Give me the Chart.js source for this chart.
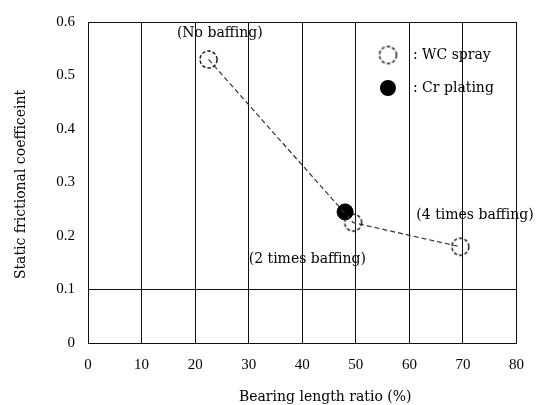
<!DOCTYPE html>
<html>
<head>
<meta charset="utf-8">
<script src="https://cdn.jsdelivr.net/npm/chart.js@4/dist/chart.umd.min.js"></script>
<style>
html,body{margin:0;padding:0;background:#fff;}
#wrap{width:537px;height:405px;position:relative;}
</style>
</head>
<body>
<div id="wrap"><canvas id="c" width="537" height="405"></canvas></div>
<script>
// Data
const wcX = [22.5, 49.5, 69.5];
const wcY = [0.53, 0.225, 0.18];
const crX = [48];
const crY = [0.245];
const xTicks = [0, 10, 20, 30, 40, 50, 60, 70, 80];
const yTicks = [0, 0.1, 0.2, 0.3, 0.4, 0.5, 0.6];
const seriesNames = [': WC spray', ': Cr plating'];
const annotations = [
  {text: '(No baffing)', x: 24.6, y: 0.579, align: 'center'},
  {text: '(2 times baffing)', x: 30.0, y: 0.157, align: 'left'},
  {text: '(4 times baffing)', x: 61.3, y: 0.239, align: 'left'}
];
const xTitle = 'Bearing length ratio (%)';
const yTitle = 'Static frictional coefficeint';

const TICKFONT = '"Liberation Serif", "Times New Roman", serif';
const TEXTFONT = '"DejaVu Serif", "Liberation Serif", serif';

function dashedCircle(r) {
  const s = Math.ceil(r * 2 + 4);
  const cv = document.createElement('canvas');
  cv.width = s; cv.height = s;
  const g = cv.getContext('2d');
  g.strokeStyle = '#111';
  g.lineWidth = 1.4;
  g.setLineDash([3.5, 2]);
  g.beginPath(); g.arc(s / 2, s / 2, r, 0, Math.PI * 2); g.stroke();
  return cv;
}
const openMarker = dashedCircle(8.5);

const textPlugin = {
  id: 'textPlugin',
  afterDatasetsDraw(chart) {
    const ctx = chart.ctx;
    const xs = chart.scales.x, ys = chart.scales.y;
    const ca = chart.chartArea;
    ctx.save();
    ctx.fillStyle = '#000';
    ctx.font = '14px ' + TEXTFONT;
    ctx.textBaseline = 'middle';
    annotations.forEach(a => {
      ctx.textAlign = a.align;
      ctx.fillText(a.text, xs.getPixelForValue(a.x), ys.getPixelForValue(a.y));
    });
    // legend
    const lx = ca.left + (ca.right - ca.left) * 0.70;
    const ly1 = ca.top + 33, ly2 = ca.top + 66;
    ctx.drawImage(openMarker, lx - openMarker.width / 2, ly1 - openMarker.height / 2);
    ctx.fillStyle = '#000';
    ctx.beginPath(); ctx.arc(lx, ly2, 8, 0, Math.PI * 2); ctx.fill();
    ctx.textAlign = 'left';
    ctx.fillText(seriesNames[0], lx + 25, ly1);
    ctx.fillText(seriesNames[1], lx + 25, ly2);
    // axis titles
    ctx.font = '14px ' + TEXTFONT;
    ctx.textAlign = 'center';
    ctx.fillText(xTitle, (ca.left + ca.right) / 2 + 23, 397);
    ctx.save();
    ctx.translate(21, (ca.top + ca.bottom) / 2 + 2);
    ctx.rotate(-Math.PI / 2);
    ctx.fillText(yTitle, 0, 0);
    ctx.restore();
    ctx.restore();
  }
};

new Chart(document.getElementById('c'), {
  type: 'scatter',
  data: {
    datasets: [
      {
        label: 'Cr plating',
        data: crX.map((x, i) => ({x, y: crY[i]})),
        pointRadius: 8,
        pointBackgroundColor: '#000',
        pointBorderColor: '#000',
        showLine: false,
        order: 2
      },
      {
        label: 'WC spray',
        data: wcX.map((x, i) => ({x, y: wcY[i]})),
        showLine: true,
        borderColor: '#333',
        borderWidth: 1.2,
        borderDash: [5, 3],
        pointStyle: openMarker,
        pointRadius: 8.5,
        order: 1
      }
    ]
  },
  options: {
    responsive: false,
    animation: false,
    layout: {padding: {top: 22, right: 17, bottom: 0, left: 0}},
    plugins: {legend: {display: false}, tooltip: {enabled: false}},
    scales: {
      x: {
        type: 'linear',
        min: 0, max: 80,
        afterBuildTicks: s => { s.ticks = xTicks.map(v => ({value: v})); },
        afterFit: s => { s.height = 62; },
        ticks: {color: '#000', font: {family: TICKFONT, size: 15}, padding: 13},
        grid: {color: '#111', lineWidth: 1, tickLength: 0, drawTicks: false},
        border: {color: '#111', width: 1}
      },
      y: {
        min: 0, max: 0.6,
        afterBuildTicks: s => { s.ticks = yTicks.map(v => ({value: v})); },
        afterFit: s => { s.width = 88; },
        ticks: {color: '#000', font: {family: TICKFONT, size: 15}, padding: 13,
          callback: v => v === 0 ? '0' : v.toFixed(1)},
        grid: {
          color: c => (c.tick && (Math.abs(c.tick.value - 0.1) < 1e-6 || Math.abs(c.tick.value - 0.6) < 1e-6)) ? '#111' : 'rgba(0,0,0,0)',
          lineWidth: 1, drawTicks: false
        },
        border: {color: '#111', width: 1}
      }
    }
  },
  plugins: [textPlugin]
});
</script>
</body>
</html>
